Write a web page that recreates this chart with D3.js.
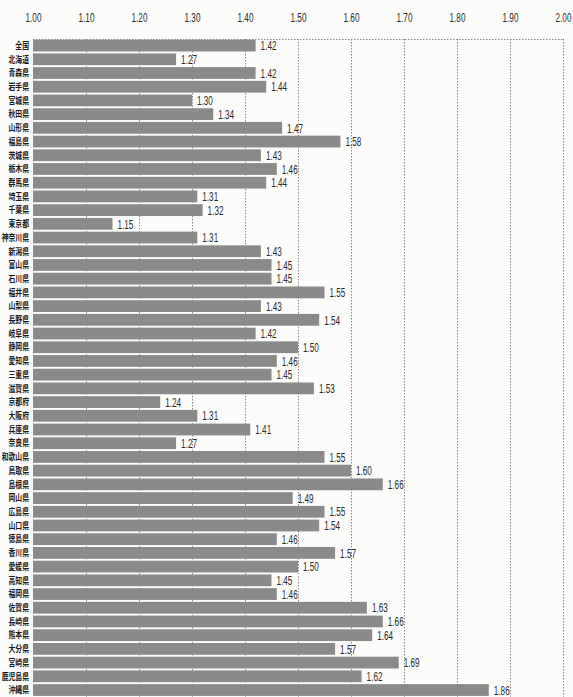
<!DOCTYPE html>
<html>
<head>
<meta charset="utf-8">
<script src="https://cdn.jsdelivr.net/npm/d3@7"></script>
<style>
  html, body { margin: 0; padding: 0; background: #fcfcfb; }
  svg { display: block; }
  .pref { font-family: "Noto Sans CJK JP", sans-serif; font-weight: 700; font-size: 9px; fill: #1a1a1a; }
  .val, .tick text { font-family: "Liberation Sans", "Noto Sans", sans-serif; fill: #2a2a2a; }
</style>
</head>
<body>
<svg id="chart" width="573" height="697"></svg>
<script>
// 合計特殊出生率（都道府県別）
const prefectures = [
  "全国", "北海道", "青森県", "岩手県", "宮城県", "秋田県", "山形県", "福島県",
  "茨城県", "栃木県", "群馬県", "埼玉県", "千葉県", "東京都", "神奈川県", "新潟県",
  "富山県", "石川県", "福井県", "山梨県", "長野県", "岐阜県", "静岡県", "愛知県",
  "三重県", "滋賀県", "京都府", "大阪府", "兵庫県", "奈良県", "和歌山県", "鳥取県",
  "島根県", "岡山県", "広島県", "山口県", "徳島県", "香川県", "愛媛県", "高知県",
  "福岡県", "佐賀県", "長崎県", "熊本県", "大分県", "宮崎県", "鹿児島県", "沖縄県"
];
const rates = [
  1.42, 1.27, 1.42, 1.44, 1.30, 1.34, 1.47, 1.58,
  1.43, 1.46, 1.44, 1.31, 1.32, 1.15, 1.31, 1.43,
  1.45, 1.45, 1.55, 1.43, 1.54, 1.42, 1.50, 1.46,
  1.45, 1.53, 1.24, 1.31, 1.41, 1.27, 1.55, 1.60,
  1.66, 1.49, 1.55, 1.54, 1.46, 1.57, 1.50, 1.45,
  1.46, 1.63, 1.66, 1.64, 1.57, 1.69, 1.62, 1.86
];
const tickValues = [1.0, 1.1, 1.2, 1.3, 1.4, 1.5, 1.6, 1.7, 1.8, 1.9, 2.0];

const data = prefectures.map((p, i) => ({ name: p, value: rates[i] }));
const fmt = d3.format(".2f");
const narrow = 0.68;   // horizontal squeeze for condensed lettering

const svg = d3.select("#chart");
const plotLeft = 33, plotRight = 563, plotTop = 39, rowStep = 13.7;
const plotBottom = plotTop + rowStep * prefectures.length;

const x = d3.scaleLinear().domain([1.0, 2.0]).range([plotLeft, plotRight]);
const y = d3.scaleBand().domain(prefectures).range([plotTop, plotBottom]).paddingInner(0.14).paddingOuter(0.05);

// dotted grid
const grid = svg.append("g");
grid.selectAll("line.v")
  .data(tickValues.slice(1))
  .join("line")
  .attr("x1", d => Math.round(x(d)) + 0.5)
  .attr("x2", d => Math.round(x(d)) + 0.5)
  .attr("y1", plotTop)
  .attr("y2", plotBottom)
  .attr("stroke", "#8a8a8a")
  .attr("stroke-width", 1)
  .attr("stroke-dasharray", "1.5,1.5");
grid.append("line")
  .attr("x1", plotLeft).attr("x2", plotRight + 0.5)
  .attr("y1", plotTop + 0.5).attr("y2", plotTop + 0.5)
  .attr("stroke", "#8a8a8a")
  .attr("stroke-dasharray", "1.5,1.5");

// top axis with tick labels only
const axis = svg.append("g")
  .attr("transform", `translate(0,${plotTop})`)
  .call(d3.axisTop(x).tickValues(tickValues).tickFormat(fmt).tickSize(0).tickPadding(17));
axis.select(".domain").remove();
axis.selectAll(".tick text")
  .attr("font-size", 12)
  .attr("transform", `scale(${narrow},1)`);

// bars
svg.append("g")
  .selectAll("rect")
  .data(data)
  .join("rect")
  .attr("x", x(1.0))
  .attr("y", d => y(d.name))
  .attr("width", d => x(d.value) - x(1.0))
  .attr("height", y.bandwidth())
  .attr("fill", "#8a8a8a");

// value labels
svg.append("g")
  .selectAll("text")
  .data(data)
  .join("text")
  .attr("class", "val")
  .attr("transform", d => `translate(${x(d.value) + 5},${y(d.name) + y.bandwidth() / 2 + 0.5}) scale(${narrow},1)`)
  .attr("dy", "0.35em")
  .attr("font-size", 12)
  .text(d => fmt(d.value));

// prefecture names
svg.append("g")
  .selectAll("text")
  .data(data)
  .join("text")
  .attr("class", "pref")
  .attr("transform", d => `translate(29,${y(d.name) + y.bandwidth() / 2}) scale(0.76,1)`)
  .attr("dy", "0.36em")
  .attr("text-anchor", "end")
  .text(d => d.name);
</script>
</body>
</html>
